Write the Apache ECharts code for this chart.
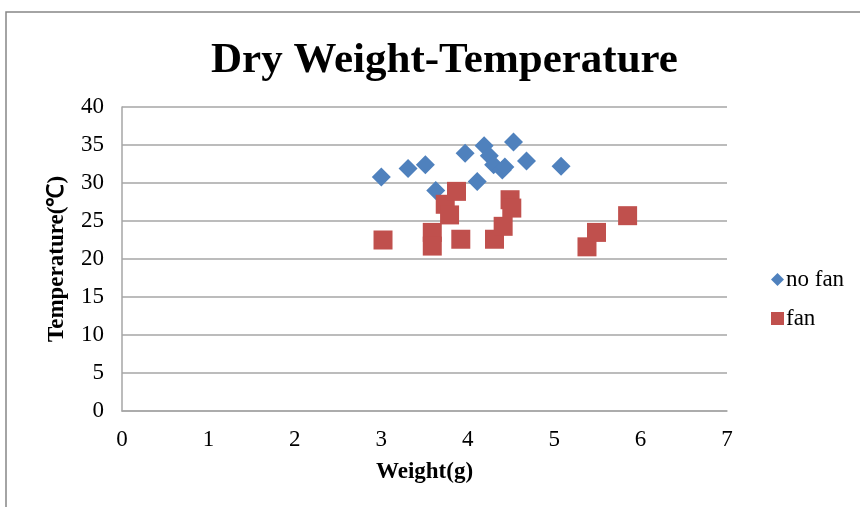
<!DOCTYPE html>
<html>
<head>
<meta charset="utf-8">
<script src="https://cdn.jsdelivr.net/npm/echarts@6/dist/echarts.min.js"></script>
<style>
  html, body { margin: 0; padding: 0; background: #fff; }
  #chart { width: 860px; height: 507px; }
</style>
</head>
<body>
<div id="chart"></div>
<script>
// no fan: [weight(g), temperature]
var noFan = [
  [3.00, 30.8], [3.31, 31.9], [3.51, 32.4], [3.63, 29.0], [3.97, 33.9],
  [4.11, 30.2], [4.19, 34.9], [4.25, 33.6], [4.30, 32.4], [4.40, 31.7],
  [4.43, 32.1], [4.53, 35.4], [4.68, 32.9], [5.08, 32.2]
]
// fan
var fan = [
  [3.02, 22.5], [3.59, 23.5], [3.59, 21.7], [3.74, 27.2], [3.79, 25.8],
  [3.87, 28.9], [3.92, 22.6], [4.31, 22.6], [4.41, 24.3], [4.49, 27.8],
  [4.51, 26.7], [5.38, 21.6], [5.49, 23.5], [5.85, 25.7]
]
var seriesNames = ['no fan', 'fan']

var serif = '"Liberation Serif", "Times New Roman", serif'
var chart = echarts.init(document.getElementById('chart'))

chart.setOption({
  animation: false,
  backgroundColor: '#fff',
  title: {
    text: 'Dry Weight-Temperature',
    left: 206,
    top: 34,
    textStyle: {
      fontFamily: serif,
      fontSize: 43,
      fontWeight: 'bold',
      color: '#000'
    }
  },
  graphic: [{
    type: 'rect',
    shape: { x: 6, y: 12, width: 900, height: 520 },
    style: { fill: 'none', stroke: '#868686', lineWidth: 1.5 },
    silent: true
  }],
  legend: {
    orient: 'vertical',
    left: 766,
    top: 263,
    itemGap: 16,
    itemWidth: 13,
    itemHeight: 13,
    data: [
      { name: seriesNames[0], icon: 'diamond' },
      { name: seriesNames[1], icon: 'rect' }
    ],
    textStyle: { fontFamily: serif, fontSize: 23, color: '#000', padding: [0, 0, 0, -3] }
  },
  grid: { left: 122, right: 133, top: 107, bottom: 96 },
  xAxis: {
    type: 'value',
    min: 0,
    max: 7,
    interval: 1,
    name: 'Weight(g)',
    nameLocation: 'middle',
    nameGap: 50,
    nameTextStyle: { fontFamily: serif, fontSize: 23, fontWeight: 'bold', color: '#000' },
    axisLine: { show: true, lineStyle: { color: '#a6a6a6', width: 1.5 } },
    axisTick: { show: false },
    splitLine: { show: false },
    axisLabel: { fontFamily: serif, fontSize: 23, color: '#000', margin: 17 }
  },
  yAxis: {
    type: 'value',
    min: 0,
    max: 40,
    interval: 5,
    name: 'Temperature(℃)',
    nameLocation: 'middle',
    nameGap: 53,
    nameTextStyle: { fontFamily: serif, fontSize: 23, fontWeight: 'bold', color: '#000' },
    axisLine: { show: true, lineStyle: { color: '#a6a6a6', width: 1.5 } },
    axisTick: { show: false },
    splitLine: { show: true, lineStyle: { color: '#a6a6a6', width: 1.5 } },
    axisLabel: { fontFamily: serif, fontSize: 23, color: '#000', margin: 18 }
  },
  series: [
    {
      name: seriesNames[0],
      type: 'scatter',
      symbol: 'diamond',
      symbolSize: 19,
      itemStyle: { color: '#4f81bd', opacity: 1 },
      data: noFan
    },
    {
      name: seriesNames[1],
      type: 'scatter',
      symbol: 'rect',
      symbolSize: 19,
      itemStyle: { color: '#c0504d', opacity: 1 },
      data: fan
    }
  ]
})
</script>
</body>
</html>
